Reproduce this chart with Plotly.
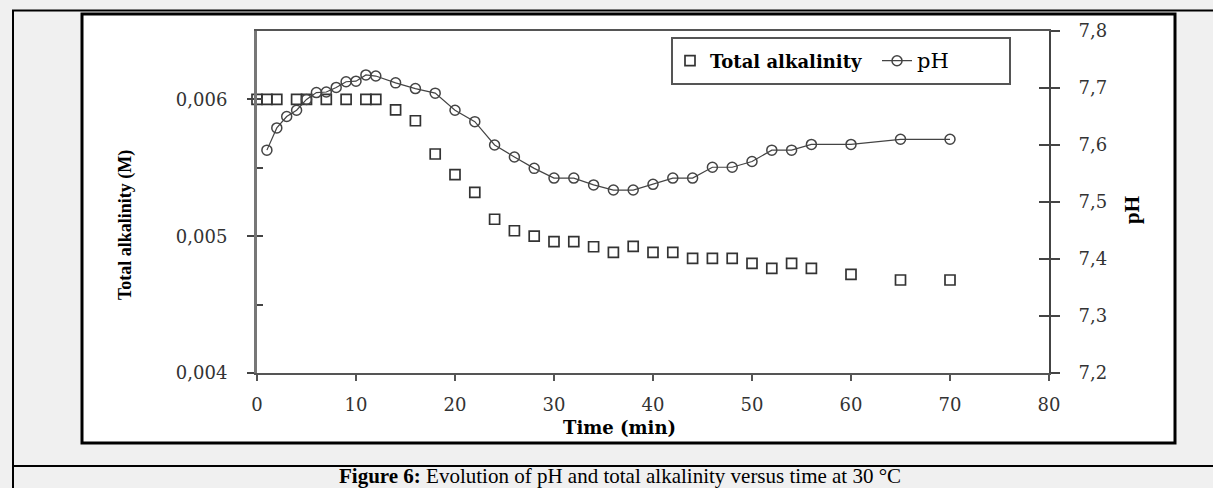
import plotly.graph_objects as go

# ---------------- data ----------------
alk_time = [0, 1, 2, 4, 5, 7, 9, 11, 12, 14, 16, 18, 20, 22, 24, 26, 28, 30, 32, 34,
            36, 38, 40, 42, 44, 46, 48, 50, 52, 54, 56, 60, 65, 70]
alk_value = [0.0060, 0.0060, 0.0060, 0.0060, 0.0060, 0.0060, 0.0060, 0.0060, 0.0060,
             0.005923, 0.005844, 0.005601, 0.005450, 0.005320, 0.005124, 0.005040,
             0.005001, 0.004960, 0.004960, 0.004923, 0.004882, 0.004925, 0.004882,
             0.004882, 0.004838, 0.004838, 0.004838, 0.004802, 0.004765, 0.004802,
             0.004765, 0.004721, 0.004680, 0.004680]

ph_time = [1, 2, 3, 4, 5, 6, 7, 8, 9, 10, 11, 12, 14, 16, 18, 20, 22, 24, 26, 28, 30,
           32, 34, 36, 38, 40, 42, 44, 46, 48, 50, 52, 54, 56, 60, 65, 70]
ph_value = [7.591, 7.630, 7.650, 7.661, 7.680, 7.692, 7.693, 7.701, 7.711, 7.712,
            7.723, 7.721, 7.709, 7.699, 7.691, 7.661, 7.641, 7.600, 7.579, 7.559,
            7.542, 7.542, 7.530, 7.521, 7.521, 7.531, 7.542, 7.542, 7.561, 7.561,
            7.571, 7.591, 7.591, 7.601, 7.601, 7.610, 7.610]

x_range = [0, 80]
alk_range = [0.004, 0.0065]
ph_range = [7.2, 7.8]

# ---------------- layout helpers (pixel -> paper) ----------------
W, H = 1213, 488
PL, PR, PT, PB = 257, 1049, 31, 373


def fx(px):
    return (px - PL) / (PR - PL)


def fy(py):
    return (PB - py) / (PB - PT)


fig = go.Figure()

fig.add_trace(go.Scatter(
    x=alk_time, y=alk_value, mode="markers", name="<b>Total alkalinity</b>",
    marker=dict(symbol="square-open", size=10, color="#333333", line=dict(width=1.7)),
    yaxis="y", cliponaxis=False,
))
fig.add_trace(go.Scatter(
    x=ph_time, y=ph_value, mode="lines+markers",
    name='<span style="font-size:21px">pH</span>',
    line=dict(color="#444444", width=1.2),
    marker=dict(symbol="circle-open", size=10, color="#444444", line=dict(width=1.5)),
    yaxis="y2", cliponaxis=False,
))

tickfont = dict(family="DejaVu Serif", size=18, color="#333333")

shapes = [
    # outer frame
    dict(type="rect", xref="paper", yref="paper", x0=fx(13), x1=fx(1230), y0=fy(10.5), y1=fy(520),
         line=dict(color="black", width=2), fillcolor="rgba(0,0,0,0)", layer="below"),
    # inner white box
    dict(type="rect", xref="paper", yref="paper", x0=fx(82), x1=fx(1175), y0=fy(14), y1=fy(443),
         line=dict(color="black", width=3), fillcolor="white", layer="below"),
    # caption separator
    dict(type="line", xref="paper", yref="paper", x0=fx(13), x1=fx(1230), y0=fy(466), y1=fy(466),
         line=dict(color="black", width=2), layer="below"),
    # legend box
    dict(type="rect", xref="paper", yref="paper", x0=fx(672), x1=fx(1010), y0=fy(38), y1=fy(84),
         line=dict(color="#555555", width=2), fillcolor="white", layer="below"),
]

annotations = [
    dict(text="Total alkalinity (M)", xref="paper", yref="paper", x=fx(125), y=fy(225),
         showarrow=False, textangle=-90, xanchor="center", yanchor="middle",
         font=dict(family="Liberation Serif", size=18, color="black", weight="bold")),
    dict(text="<b>pH</b>", xref="paper", yref="paper", x=fx(1132), y=fy(210),
         showarrow=False, textangle=-90, xanchor="center", yanchor="middle",
         font=dict(family="Liberation Serif", size=21, color="black")),
    dict(text="<b>Time (min)</b>", xref="paper", yref="paper", x=fx(619), y=fy(428),
         showarrow=False, xanchor="center", yanchor="middle",
         font=dict(family="DejaVu Serif", size=18, color="black")),
    dict(text="<b>Figure 6:</b> Evolution of pH and total alkalinity versus time at 30 °C",
         xref="paper", yref="paper", x=fx(620), y=fy(476),
         showarrow=False, xanchor="center", yanchor="middle",
         font=dict(family="Liberation Serif", size=21, color="black")),
]

fig.update_layout(
    width=W, height=H,
    margin=dict(l=PL, r=W - PR, t=PT, b=H - PB, pad=0),
    paper_bgcolor="#f0f0f0",
    plot_bgcolor="white",
    separators=", ",
    showlegend=True,
    legend=dict(
        orientation="h", x=fx(670), y=fy(61), xanchor="left", yanchor="middle",
        bgcolor="rgba(0,0,0,0)", borderwidth=0,
        font=dict(family="DejaVu Serif", size=18, color="black"),
        itemwidth=30, entrywidthmode="pixels", entrywidth=162,
    ),
    xaxis=dict(
        range=x_range, dtick=10, tick0=0, showgrid=False, zeroline=False,
        showline=True, linecolor="#555555", linewidth=1.5, mirror=True,
        ticks="outside", ticklen=6, tickwidth=1.5, tickcolor="#555555",
        tickfont=tickfont, ticklabelstandoff=9,
    ),
    yaxis=dict(
        range=alk_range, dtick=0.001, tick0=0.004, tickformat=".3f",
        showgrid=False, zeroline=False,
        showline=True, linecolor="#777777", linewidth=3,
        ticks="outside", ticklen=7, tickwidth=1.5, tickcolor="#444444",
        tickfont=tickfont, ticklabelstandoff=16,
    ),
    yaxis3=dict(
        range=alk_range, dtick=0.0005, tick0=0.004, overlaying="y", side="left",
        showgrid=False, zeroline=False, showline=False, showticklabels=False,
        ticks="inside", ticklen=6, tickwidth=1.5, tickcolor="#444444",
    ),
    yaxis2=dict(
        range=ph_range, dtick=0.1, tick0=7.2, tickformat=".1f", overlaying="y", side="right",
        showgrid=False, zeroline=False,
        showline=True, linecolor="#444444", linewidth=2,
        ticks="outside", ticklen=9, tickwidth=1.5, tickcolor="#444444",
        tickfont=tickfont, ticklabelstandoff=15,
    ),
    yaxis4=dict(
        range=ph_range, dtick=0.1, tick0=7.2, overlaying="y", side="right",
        showgrid=False, zeroline=False, showline=False, showticklabels=False,
        ticks="inside", ticklen=10, tickwidth=1.5, tickcolor="#444444",
    ),
    shapes=shapes,
    annotations=annotations,
)

# invisible traces to activate the tick-only overlay axes
fig.add_trace(go.Scatter(x=[None], y=[None], yaxis="y3", showlegend=False, hoverinfo="skip"))
fig.add_trace(go.Scatter(x=[None], y=[None], yaxis="y4", showlegend=False, hoverinfo="skip"))

fig.write_html("out.html")
